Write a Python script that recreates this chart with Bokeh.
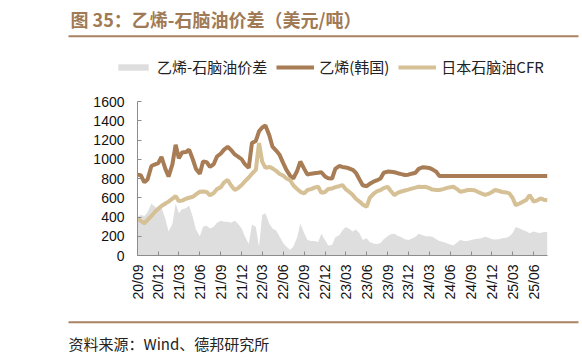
import pandas as pd
from math import pi
from bokeh.plotting import figure
from bokeh.layouts import column
from bokeh.models import (ColumnDataSource, FixedTicker, DatetimeTickFormatter, Legend,
                          LegendItem, Label, BoxAnnotation, Range1d)
from bokeh.embed import file_html
from bokeh.resources import INLINE

# ---- data (semi-monthly, from 2020-09-01) ----
start_date = "2020-09-01"
ethylene_korea = [
    840, 835, 760, 790, 930, 945, 960, 1025, 900, 820,
    950, 1150, 1010, 1070, 1075, 1100, 1000, 900, 850, 976,
    970, 920, 950, 1028, 1060, 1100, 1130, 1098, 1050, 1028,
    1000, 950, 910, 1168, 1190, 1290, 1330, 1350, 1250, 1130,
    1090, 1050, 960, 889, 830, 800, 880, 976, 900, 840,
    850, 855, 860, 865, 820, 802, 800, 900, 930, 920,
    915, 906, 890, 860, 790, 730, 720, 745, 767, 780,
    800, 860, 872, 870, 865, 855, 845, 837, 840, 850,
    860, 900, 917, 915, 910, 895, 870, 825, 825, 825,
    825, 825, 825, 825, 825, 825, 825, 825, 825, 825,
    825, 825, 825, 825, 825, 825, 825, 825, 825, 825,
    825, 825, 825, 825, 825, 825, 825, 825, 825,
]
naphtha_japan_cfr = [
    384, 360, 335, 370, 410, 450, 485, 515, 540, 560,
    590, 617, 565, 570, 590, 600, 610, 635, 662, 665,
    660, 625, 650, 690, 710, 760, 784, 730, 680, 700,
    732, 770, 810, 850, 889, 1168, 976, 910, 920, 906,
    880, 850, 830, 800, 784, 730, 690, 662, 645, 680,
    690, 705, 714, 650, 660, 690, 697, 710, 720, 732,
    690, 665, 630, 590, 560, 530, 506, 600, 640, 665,
    680, 700, 714, 670, 628, 650, 665, 675, 685, 695,
    705, 714, 712, 714, 700, 685, 680, 680, 690, 700,
    710, 714, 690, 662, 670, 680, 680, 678, 660, 645,
    630, 640, 660, 680, 670, 660, 655, 645, 600, 523,
    540, 558, 580, 628, 560, 570, 593, 580, 575,
]
spread = [
    400, 420, 410, 450, 540, 510, 480, 500, 380, 250,
    330, 540, 440, 480, 490, 520, 400, 270, 200, 300,
    310, 280, 300, 340, 360, 350, 350, 340, 360, 330,
    280, 200, 120, 320, 300, 90, 420, 440, 330, 280,
    260, 200, 130, 90, 60, 90, 190, 330, 230, 160,
    150, 150, 140, 226, 160, 105, 110, 190, 210, 260,
    296, 280, 250, 270, 230, 160, 180, 140, 125, 120,
    130, 170, 200, 220, 225, 205, 190, 170, 160, 175,
    195, 225, 210, 200, 200, 195, 170, 150, 140, 130,
    115, 105, 135, 160, 150, 150, 160, 170, 175, 180,
    195, 185, 170, 165, 170, 180, 185, 200, 230, 296,
    280, 265, 250, 230, 250, 240, 235, 245, 245,
]
series_names = ["乙烯-石脑油价差", "乙烯(韩国)", "日本石脑油CFR"]
title_text = "图 35：乙烯-石脑油价差（美元/吨）"
source_text = "资料来源：Wind、德邦研究所"
y_ticks = [0, 200, 400, 600, 800, 1000, 1200, 1400, 1600]
tick_start, tick_end = "2020-09-01", "2025-06-01"

dates = pd.date_range(start_date, periods=len(ethylene_korea), freq="SMS")
src = ColumnDataSource(dict(date=dates, eth=ethylene_korea, nap=naphtha_japan_cfr, spr=spread))
tick_dates = pd.date_range(tick_start, tick_end, freq="3MS")

BROWN = "#a87d55"
TAN = "#d6c096"
GREY = "#dedede"
TITLE_C = "#a07a55"
RULE_C = "#a98261"
CJK = "Noto Sans CJK SC"
LAT = "Liberation Sans"
W = 580
NAN = float("nan")


def blank_fig(height):
    # a pixel-scaled panel: data units == pixels (y measured up from the bottom)
    f = figure(width=W, height=height, output_backend="svg", toolbar_location=None,
               x_axis_location=None, y_axis_location=None,
               x_range=Range1d(0, W), y_range=Range1d(0, height),
               min_border=0, min_border_left=0, min_border_right=0,
               min_border_top=0, min_border_bottom=0, frame_align=False)
    f.outline_line_color = None
    f.xgrid.visible = False
    f.ygrid.visible = False
    f.background_fill_color = "white"
    f.border_fill_color = "white"
    return f


def rule(f, left, right, y_from_top):
    h = f.height
    f.add_layout(BoxAnnotation(left=left, right=right, bottom=h - y_from_top - 1,
                               top=h - y_from_top + 1,
                               fill_color=RULE_C, fill_alpha=1, line_alpha=0))


# ---------------- header: title, rule, legend ----------------
HEAD_H = 88
head = blank_fig(HEAD_H)
head.add_layout(Label(x=70, y=HEAD_H - 18, x_units="screen", y_units="screen", text=title_text,
                      text_font=CJK, text_font_size="18px", text_font_style="bold",
                      text_color=TITLE_C, text_baseline="middle"))
rule(head, 68, 578, 35.7)

lg_area = head.varea(x=[NAN], y1=[NAN], y2=[NAN], fill_color=GREY)
lg_eth = head.line(x=[NAN], y=[NAN], line_color=BROWN, line_width=4)
lg_nap = head.line(x=[NAN], y=[NAN], line_color=TAN, line_width=4)
legend = Legend(items=[LegendItem(label=series_names[0], renderers=[lg_area]),
                       LegendItem(label=series_names[1], renderers=[lg_eth]),
                       LegendItem(label=series_names[2], renderers=[lg_nap])],
                orientation="horizontal", location=(114, 11),
                padding=0, margin=0, spacing=9, glyph_width=38, glyph_height=8,
                label_standoff=5, label_text_font=CJK, label_text_font_size="15px",
                label_text_color="#222222", border_line_alpha=0, background_fill_alpha=0)
head.add_layout(legend, "center")

# ---------------- main chart ----------------
MAIN_H = 222
p = figure(width=W, height=MAIN_H, x_axis_type="datetime", output_backend="svg",
           toolbar_location=None, frame_align=False,
           x_range=Range1d(dates[0], dates[-1]), y_range=Range1d(0, 1600),
           min_border_left=137, min_border_right=W - 547, min_border_top=13,
           min_border_bottom=MAIN_H - 167)
p.outline_line_color = None
p.xgrid.visible = False
p.ygrid.visible = False
p.background_fill_color = "white"
p.border_fill_color = "white"

p.varea(x="date", y1=0, y2="spr", source=src, fill_color=GREY)
p.line(x="date", y="eth", source=src, line_color=BROWN, line_width=4)
p.line(x="date", y="nap", source=src, line_color=TAN, line_width=4)

for ax in (p.xaxis[0], p.yaxis[0]):
    ax.axis_line_color = "#8c8c8c"
    ax.major_tick_line_color = "#8c8c8c"
    ax.major_tick_in = 4
    ax.major_tick_out = 0
    ax.minor_tick_line_color = None
    ax.major_label_text_font = LAT
    ax.major_label_text_font_size = "14px"
    ax.major_label_text_color = "#111111"

p.yaxis.ticker = FixedTicker(ticks=y_ticks)
p.yaxis.major_label_standoff = 13
p.xaxis.ticker = FixedTicker(ticks=[int(t.value // 10**6) for t in tick_dates])
fmt = "%y/%m"
p.xaxis.formatter = DatetimeTickFormatter(
    microseconds=fmt, milliseconds=fmt, seconds=fmt, minsec=fmt, minutes=fmt,
    hourmin=fmt, hours=fmt, days=fmt, months=fmt, years=fmt, context=None)
p.xaxis.major_label_orientation = pi / 2
p.xaxis.major_label_standoff = 9

# ---------------- footer: rule, source ----------------
FOOT_H = 46
foot = blank_fig(FOOT_H)
rule(foot, 68, 578, 11.7)
foot.add_layout(Label(x=68, y=FOOT_H - 33, x_units="screen", y_units="screen", text=source_text,
                      text_font=CJK, text_font_size="15px", text_color="#222222",
                      text_baseline="middle"))

layout = column(head, p, foot, spacing=0)
open("out.html", "w").write(file_html(layout, INLINE))
